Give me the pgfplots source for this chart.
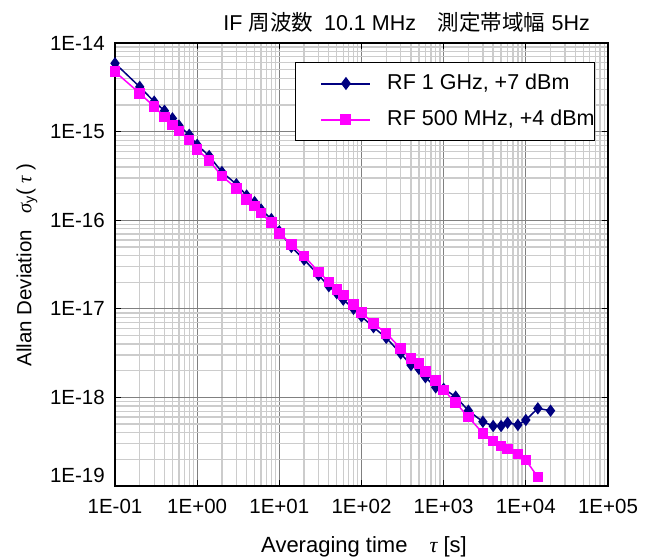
\documentclass[border=0pt]{standalone}
\usepackage{pgfplots}
\pgfplotsset{compat=1.18}
\usepackage{fontspec}
\setmainfont{Liberation Sans}
\newfontfamily\jp{Noto Sans CJK JP}
\newfontfamily\serif{Liberation Serif}
\definecolor{navyc}{RGB}{0,0,128}
\definecolor{magc}{RGB}{255,0,255}
\begin{document}
\begin{tikzpicture}[font=\fontsize{20.5}{24}\selectfont]
\begin{axis}[
  at={(0,0)}, anchor=south west,
  scale only axis, width=493pt, height=443pt,
  xmode=log, ymode=log,
  xmin=0.1, xmax=1e5, ymin=1e-19, ymax=1e-14,
  xtick={0.1,1,10,100,1000,10000,100000},
  xticklabels={1E-01,1E+00,1E+01,1E+02,1E+03,1E+04,1E+05},
  minor xtick={0.2,0.3,0.4,0.5,0.6,0.7,0.8,0.9,
               2,3,4,5,6,7,8,9,
               20,30,40,50,60,70,80,90,
               200,300,400,500,600,700,800,900,
               2e3,3e3,4e3,5e3,6e3,7e3,8e3,9e3,
               2e4,3e4,4e4,5e4,6e4,7e4,8e4,9e4},
  ytick={1e-19,1e-18,1e-17,1e-16,1e-15,1e-14},
  yticklabels={\raisebox{11pt}[\height][\depth]{1E-19},1E-18,1E-17,1E-16,1E-15,1E-14},
  minor ytick={2e-19,3e-19,4e-19,5e-19,6e-19,7e-19,8e-19,9e-19,
               2e-18,3e-18,4e-18,5e-18,6e-18,7e-18,8e-18,9e-18,
               2e-17,3e-17,4e-17,5e-17,6e-17,7e-17,8e-17,9e-17,
               2e-16,3e-16,4e-16,5e-16,6e-16,7e-16,8e-16,9e-16,
               2e-15,3e-15,4e-15,5e-15,6e-15,7e-15,8e-15,9e-15},
  grid=both,
  tick align=inside, major tick length=6pt, minor tick length=0pt,
  major grid style={black!50, line width=0.9pt},
  minor grid style={black!20, line width=1.3pt},
  axis line style={line width=1.2pt},
  every tick/.style={black, line width=0.9pt},
  xticklabel style={anchor=north, inner sep=0pt, yshift=-13pt},
  yticklabel style={anchor=east, inner sep=0pt, xshift=-10pt},
  legend cell align=left,
  legend style={at={(0.9736,0.957)}, anchor=north east, draw=black, line width=0.9pt,
    font=\fontsize{21.5}{25}\selectfont,
    inner xsep=0pt, inner ysep=11.5pt, row sep=17pt, column sep=0pt,
    nodes={inner sep=0pt, text height=15pt, text depth=4pt}},
  legend image code/.code={\path (-25pt,0pt) (65pt,0pt);
    \draw[line width=2pt, mark repeat=2,mark phase=2] plot coordinates {(0pt,0pt) (24.5pt,0pt) (49pt,0pt)};},
]
\addplot[navyc, line width=1.5pt, mark=diamond*, mark size=5pt, mark options={solid}] coordinates {
(0.1,5.9e-15) (0.2,3.2e-15) (0.3,2.18e-15) (0.4,1.72e-15) (0.5,1.41e-15) (0.6,1.17e-15) (0.8,9.2e-16)
(1,7.1e-16) (1.4,5.3e-16) (2,3.5e-16) (3,2.55e-16) (4,1.9e-16) (5,1.6e-16) (6,1.32e-16) (8,1.03e-16)
(10,7.5e-17) (14,5.0e-17) (20,3.6e-17) (30,2.4e-17) (40,1.8e-17) (50,1.5e-17) (60,1.27e-17) (80,1.0e-17)
(100,8.2e-18) (140,6.2e-18) (200,4.7e-18) (300,3.14e-18) (400,2.32e-18) (500,2.1e-18) (600,1.69e-18) (800,1.30e-18)
(1000,1.25e-18) (1400,1.02e-18) (2000,7.08e-19) (3000,5.32e-19) (4000,4.76e-19) (5000,4.76e-19) (6000,5.18e-19) (8000,4.89e-19)
(10000,5.56e-19) (14000,7.53e-19) (20000,7.08e-19)
};
\addlegendentry{RF 1 GHz, +7 dBm}
\addplot[magc, line width=1.5pt, mark=square*, mark size=4.5pt, mark options={solid}] coordinates {
(0.1,4.74e-15) (0.2,2.71e-15) (0.3,1.91e-15) (0.4,1.47e-15) (0.5,1.19e-15) (0.6,1.02e-15) (0.8,8.04e-16)
(1,6.31e-16) (1.4,4.70e-16) (2,3.15e-16) (3,2.29e-16) (4,1.72e-16) (5,1.45e-16) (6,1.20e-16) (8,9.37e-17)
(10,7.11e-17) (14,5.35e-17) (20,3.94e-17) (30,2.62e-17) (40,2.02e-17) (50,1.66e-17) (60,1.43e-17) (80,1.12e-17)
(100,9.04e-18) (140,6.86e-18) (200,5.29e-18) (300,3.58e-18) (400,2.76e-18) (500,2.43e-18) (600,1.95e-18) (800,1.55e-18)
(1000,1.21e-18) (1400,8.71e-19) (2000,6.0e-19) (3000,3.94e-19) (4000,3.24e-19) (5000,2.83e-19) (6000,2.62e-19) (8000,2.30e-19)
(10000,1.96e-19) (14000,1.26e-19)
};
\addlegendentry{RF 500 MHz, +4 dBm\hspace{7pt}}
\end{axis}
\node[anchor=base east, inner sep=0pt, font=\fontsize{21.5}{25}\selectfont] at (475pt,455pt) {IF\hspace{0.3em}{\jp 周波数}\hspace{0.5em}10.1 MHz\hspace{1em}{\jp 測定帯域幅}\hspace{0.3em}5Hz};
\node[anchor=base, inner sep=0pt, font=\fontsize{22}{26}\selectfont] at (249pt,-66pt) {Averaging time\hspace{1em}{\serif\itshape τ} [s]};
\node[rotate=90, anchor=center, inner sep=0pt] at (-88pt,221pt) {Allan Deviation\hspace{0.8em}{\serif\itshape σ}\textsubscript{y}( {\serif\itshape τ} )};
\pgfresetboundingbox
\path[use as bounding box] (-115pt,-71pt) rectangle (546pt,486pt);
\end{tikzpicture}
\end{document}
